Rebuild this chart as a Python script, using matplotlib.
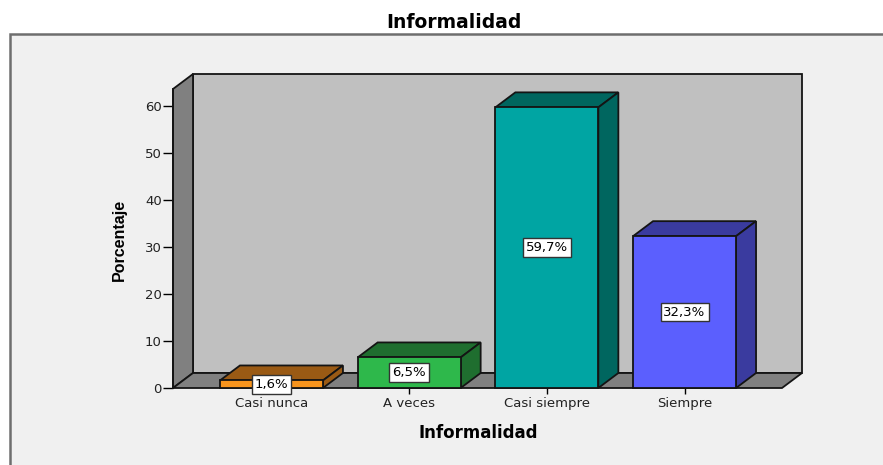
import matplotlib
matplotlib.use("Agg")
import matplotlib.pyplot as plt
from matplotlib.patches import Polygon, Rectangle

# ---- data ----
categories = ["Casi nunca", "A veces", "Casi siempre", "Siempre"]
values = [1.6, 6.5, 59.7, 32.3]
value_labels = ["1,6%", "6,5%", "59,7%", "32,3%"]
yticks = [0, 10, 20, 30, 40, 50, 60]
title = "Informalidad"
xlabel = "Informalidad"
ylabel = "Porcentaje"

front_colors = ["#f7941d", "#2eb84b", "#00a5a3", "#5b5ffe"]
dark_colors = ["#9a5a14", "#1f6e2f", "#00665f", "#3a3b9f"]

W, H = 883, 465
fig = plt.figure(figsize=(W / 100, H / 100), dpi=100)
fig.patch.set_facecolor("white")

# outer frame (light grey panel)
fig.patches.append(Rectangle((10 / W, -0.1), 1.0, (H - 34) / H + 0.1,
                             transform=fig.transFigure, facecolor="#f0f0f0",
                             edgecolor="#6e6e6e", linewidth=1.8, zorder=-10))

# axes geometry (pixels)
left_px, right_px, bottom_px, top_px = 173, 802, 388, 74
ax = fig.add_axes([left_px / W, (H - bottom_px) / H,
                   (right_px - left_px) / W, (bottom_px - top_px) / H])
ax.set_zorder(5)
ax.set_facecolor("none")

xmin, xmax = -0.715, 3.853
ymax = 66.8
ax.set_xlim(xmin, xmax)
ax.set_ylim(0, ymax)

dx = 20 / 137.7   # depth in x data units
dy = 15 / 4.7     # depth in y data units
wall_top = ymax - dy

ec = "#141414"
lw = 1.3
# back wall
ax.add_patch(Polygon([(xmin + dx, dy), (xmax, dy), (xmax, ymax), (xmin + dx, ymax)],
                     closed=True, facecolor="#c0c0c0", edgecolor=ec, lw=lw,
                     clip_on=False, zorder=1))
# left wall
ax.add_patch(Polygon([(xmin, 0), (xmin + dx, dy), (xmin + dx, ymax), (xmin, wall_top)],
                     closed=True, facecolor="#808080", edgecolor=ec, lw=lw,
                     clip_on=False, zorder=1))
# floor
ax.add_patch(Polygon([(xmin, 0), (xmax - dx, 0), (xmax, dy), (xmin + dx, dy)],
                     closed=True, facecolor="#808080", edgecolor=ec, lw=lw,
                     clip_on=False, zorder=1))

bw = 0.748
xs = list(range(len(categories)))
for i, (x, v) in enumerate(zip(xs, values)):
    x0, x1 = x - bw / 2, x + bw / 2
    # top face
    ax.add_patch(Polygon([(x0, v), (x1, v), (x1 + dx, v + dy), (x0 + dx, v + dy)],
                         closed=True, facecolor=dark_colors[i], edgecolor=ec,
                         lw=lw, clip_on=False, zorder=3))
    # side face
    ax.add_patch(Polygon([(x1, 0), (x1 + dx, dy), (x1 + dx, v + dy), (x1, v)],
                         closed=True, facecolor=dark_colors[i], edgecolor=ec,
                         lw=lw, clip_on=False, zorder=3))
ax.bar(xs, values, width=bw, color=front_colors, edgecolor=ec, linewidth=lw,
       zorder=4, clip_on=False)

for x, v, lab in zip(xs, values, value_labels):
    ax.text(x, v / 2, lab, ha="center", va="center", fontsize=9.5,
            family="DejaVu Sans", color="black", zorder=6,
            bbox=dict(boxstyle="square,pad=0.22", facecolor="white",
                      edgecolor="#333333", linewidth=1))

# front-left axis line
ax.plot([xmin, xmin], [0, wall_top], color=ec, lw=lw, clip_on=False, zorder=5)

for s in ax.spines.values():
    s.set_visible(False)

ax.set_yticks(yticks)
ax.set_yticklabels([str(t) for t in yticks])
ax.tick_params(axis="y", length=7, width=1, pad=1, labelsize=9.5, colors="black")
ax.set_xticks(xs)
ax.set_xticklabels(categories)
ax.tick_params(axis="x", length=4.5, width=1, pad=2, labelsize=9.5, colors="black")
for t in ax.get_xticklabels() + ax.get_yticklabels():
    t.set_color("#222222")

ax.set_xlabel(xlabel, fontsize=12, fontweight="bold", labelpad=5,
              family="DejaVu Sans")
ax.xaxis.set_label_coords((478 - left_px) / (right_px - left_px),
                          -(424 - bottom_px) / (bottom_px - top_px))
ax.set_ylabel(ylabel, fontsize=11.5, fontweight="bold",
              family=["Liberation Sans Narrow", "Liberation Sans", "DejaVu Sans"])
ax.yaxis.set_label_coords(-(left_px - 127) / (right_px - left_px),
                          (bottom_px - 240) / (bottom_px - top_px))

fig.text(454 / W, 1 - 22 / H, title, ha="center", va="center",
         fontsize=13.5, fontweight="bold", family="DejaVu Sans")

fig.savefig("out.png", dpi=100, facecolor=fig.get_facecolor())
